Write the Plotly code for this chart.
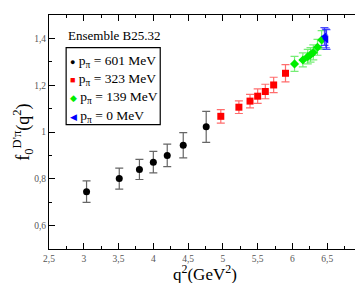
import plotly.graph_objects as go

# --- data ---
q2_601 = [3.04, 3.51, 3.80, 4.00, 4.20, 4.43, 4.76]
f0_601 = [0.745, 0.801, 0.840, 0.871, 0.900, 0.943, 1.022]
err_601 = [0.046, 0.045, 0.043, 0.046, 0.048, 0.054, 0.066]

q2_323 = [4.97, 5.23, 5.39, 5.50, 5.61, 5.73, 5.90]
f0_323 = [1.067, 1.106, 1.132, 1.153, 1.173, 1.201, 1.251]
err_323 = [0.029, 0.027, 0.029, 0.031, 0.031, 0.033, 0.037]

q2_139 = [6.03, 6.15, 6.22, 6.26, 6.30, 6.36, 6.42]
f0_139 = [1.291, 1.308, 1.322, 1.330, 1.340, 1.362, 1.393]
err_139 = [0.032, 0.030, 0.031, 0.031, 0.032, 0.034, 0.040]

q2_0 = [6.46, 6.48, 6.49]
f0_0 = [1.408, 1.400, 1.395]
err_0 = [0.038, 0.040, 0.042]

legend_labels = ["601", "323", "139", "0"]
legend_colors = ["black", "#ff0000", "#00ee00", "#0000ff"]
legend_glyphs = ["●", "■", "◆", "◀"]

FONT = "Liberation Serif, Times New Roman, DejaVu Serif, serif"

fig = go.Figure()

def add(x, y, e, color, ecolor, symbol, size):
    fig.add_trace(go.Scatter(
        x=x, y=y, mode="markers",
        marker=dict(color=color, symbol=symbol, size=size, line=dict(width=0)),
        error_y=dict(type="data", array=e, visible=True, color=ecolor,
                     thickness=1.2, width=4),
        showlegend=False,
    ))

add(q2_601, f0_601, err_601, "black", "#666666", "circle", 7)
add(q2_323, f0_323, err_323, "#ff0000", "rgba(255,60,60,0.75)", "square", 7)
add(q2_139, f0_139, err_139, "#00ee00", "rgba(60,230,60,0.7)", "diamond", 7)
add(q2_0, f0_0, err_0, "#0000ff", "rgba(30,30,255,0.8)", "triangle-left", 7)

axis_common = dict(
    showline=True, linecolor="black", linewidth=1.2, mirror="ticks",
    ticks="inside", ticklen=6, tickwidth=1, tickcolor="black",
    showgrid=False, zeroline=False,
    tickfont=dict(family=FONT, size=9.5, color="#555"),
)

fig.update_xaxes(range=[2.5, 7], dtick=0.5, tick0=2.5,
                 minor=dict(ticks="inside", dtick=0.25, ticklen=3, tickcolor="black"),
                 **axis_common)
fig.update_yaxes(range=[0.5, 1.5], dtick=0.2, tick0=0.6,
                 minor=dict(ticks="inside", dtick=0.1, ticklen=3, tickcolor="black"),
                 **axis_common)

W, PL, PT = 316.0, 40.7, 7.0
H = 233.7
def px(x):
    return (x - PL) / W
def py(y):
    return (PT + H - y) / H

# axis titles
fig.add_annotation(xref="paper", yref="paper", x=px(198), y=py(264.5),
                   text="q<sup>2</sup>(GeV<sup>2</sup>)", showarrow=False,
                   xanchor="center", yanchor="middle",
                   font=dict(family=FONT, size=17, color="black"))
fig.add_annotation(xref="paper", yref="paper", x=px(14), y=py(124),
                   text="f<sub>0</sub><sup>D'π</sup>(q<sup>2</sup>)", showarrow=False,
                   textangle=-90, xanchor="center", yanchor="middle",
                   font=dict(family=FONT, size=18, color="black"))

# legend box and entries
fig.add_shape(type="rect", xref="paper", yref="paper",
              x0=px(58), x1=px(153), y0=py(116.5), y1=py(39.5),
              line=dict(color="black", width=1.2), fillcolor="white")
fig.add_annotation(xref="paper", yref="paper", x=px(106), y=py(27),
                   text="Ensemble B25.32", showarrow=False,
                   font=dict(family=FONT, size=13, color="black"),
                   xanchor="center", yanchor="middle")
ys = [53, 71.5, 89.5, 108]
for lab, col, gl, yy in zip(legend_labels, legend_colors, legend_glyphs, ys):
    fig.add_annotation(xref="paper", yref="paper", x=px(60), y=py(yy),
                       text=f'<span style="color:{col};font-size:9px">{gl}</span> p<sub>π</sub> = {lab} MeV',
                       showarrow=False, xanchor="left", yanchor="middle",
                       font=dict(family=FONT, size=13.5, color="black"))

fig.update_layout(
    width=363, height=283,
    margin=dict(l=41, r=6, t=7, b=42),
    plot_bgcolor="white", paper_bgcolor="white",
    separators=", ",
    font=dict(family=FONT),
)

fig.write_html("out.html")
